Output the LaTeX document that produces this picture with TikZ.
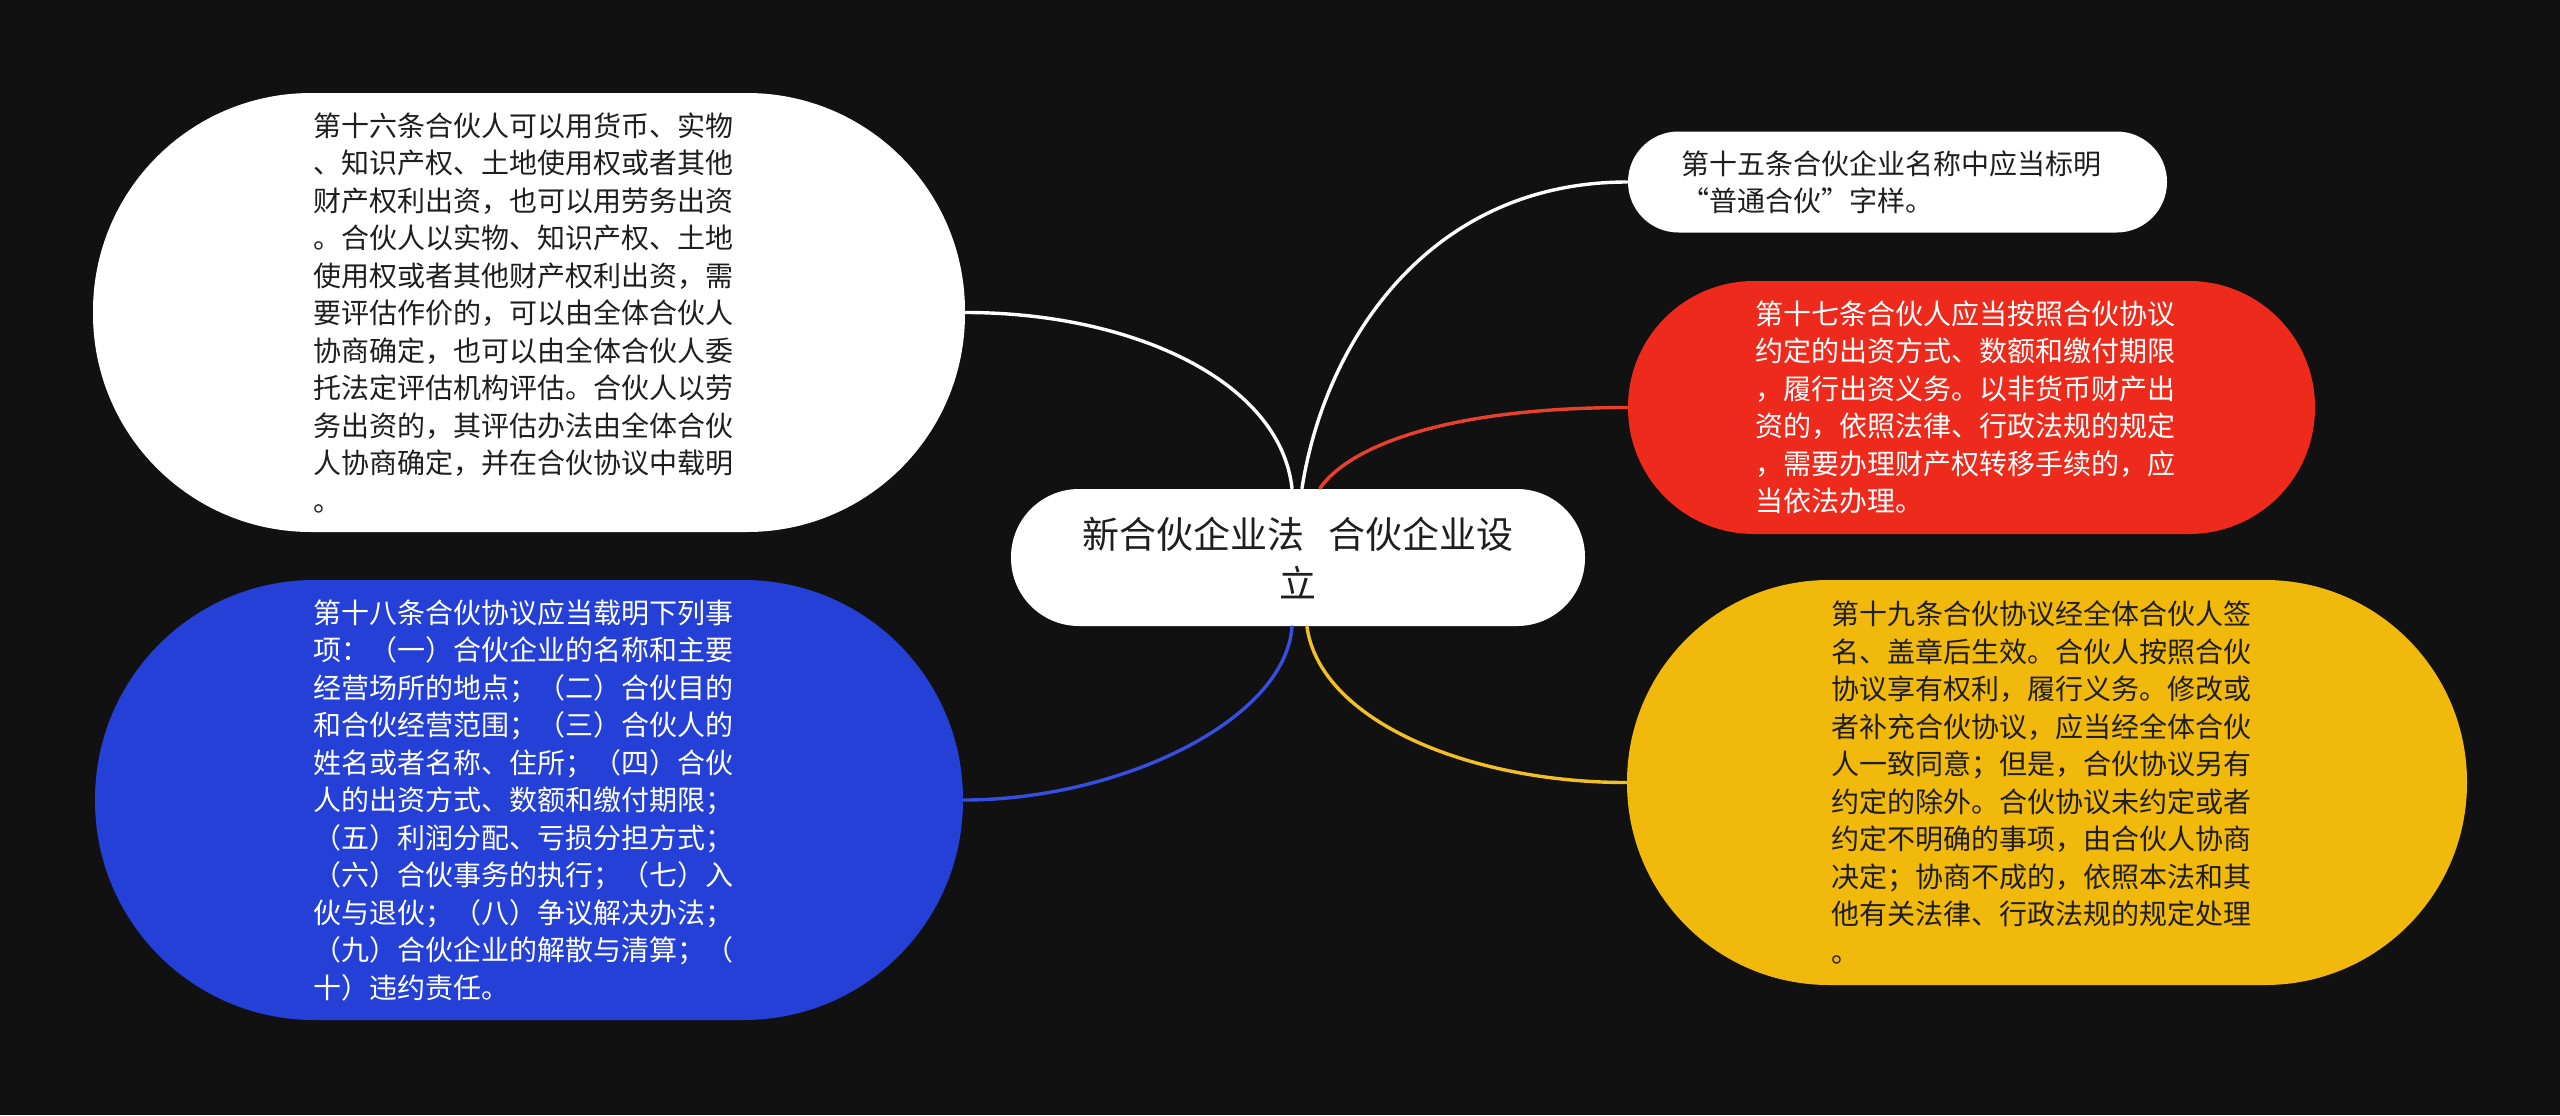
\documentclass[tikz,border=0pt]{standalone}
\usepackage{fontspec}
\setmainfont{Noto Sans CJK SC}
\usetikzlibrary{calc}
\definecolor{bg}{HTML}{111111}
\definecolor{redfill}{HTML}{ED2A1B}
\definecolor{bluefill}{HTML}{2440D6}
\definecolor{yellowfill}{HTML}{F0B90B}
\definecolor{redline}{HTML}{E8402D}
\definecolor{blueline}{HTML}{3550E0}
\definecolor{yellowline}{HTML}{F3BF26}
\definecolor{darktext}{HTML}{1E1E1E}
\tikzset{
  topic/.style={rectangle, inner sep=0pt, text width=108pt, align=left,
    font=\fontsize{7pt}{9.375pt}\selectfont},
  centre/.style={rectangle, inner sep=0pt, fill=white, text=darktext, align=center,
    minimum width=143.5pt, minimum height=34.25pt, rounded corners=17pt,
    font=\fontsize{9.25pt}{12.25pt}\selectfont},
  link/.style={line width=0.85pt, line cap=round}
}
\begin{document}
\begin{tikzpicture}[x=0.25pt,y=-0.25pt]
\fill[bg] (0,0) rectangle (2560,1115);
\useasboundingbox (0,0) rectangle (2560,1115);

\node[centre] (M) at (1298,557.5) {新合伙企业法\hspace*{6.2pt}合伙企业设\\立};

\node[topic, fill=white, text=darktext, minimum width=218pt, minimum height=109.75pt, rounded corners=54.5pt] (A) at (529,312.5) {第十六条合伙人可以用货币、实物\\、知识产权、土地使用权或者其他\\财产权利出资，也可以用劳务出资\\。合伙人以实物、知识产权、土地\\使用权或者其他财产权利出资，需\\要评估作价的，可以由全体合伙人\\协商确定，也可以由全体合伙人委\\托法定评估机构评估。合伙人以劳\\务出资的，其评估办法由全体合伙\\人协商确定，并在合伙协议中载明\\。};

\node[topic, fill=bluefill, text=white, minimum width=217pt, minimum height=110pt, rounded corners=54.8pt] (B) at (529,800) {第十八条合伙协议应当载明下列事\\项：（一）合伙企业的名称和主要\\经营场所的地点；（二）合伙目的\\和合伙经营范围；（三）合伙人的\\姓名或者名称、住所；（四）合伙\\人的出资方式、数额和缴付期限；\\（五）利润分配、亏损分担方式；\\（六）合伙事务的执行；（七）入\\伙与退伙；（八）争议解决办法；\\（九）合伙企业的解散与清算；（\\十）违约责任。};

\node[topic, fill=white, text=darktext, minimum width=134.75pt, minimum height=25.25pt, rounded corners=12.6pt] (C) at (1897.5,182) {第十五条合伙企业名称中应当标明\\“普通合伙”字样。};

\node[topic, fill=redfill, text=white, minimum width=171.75pt, minimum height=63.25pt, rounded corners=31.5pt] (D) at (1971.5,407.5) {第十七条合伙人应当按照合伙协议\\约定的出资方式、数额和缴付期限\\，履行出资义务。以非货币财产出\\资的，依照法律、行政法规的规定\\，需要办理财产权转移手续的，应\\当依法办理。};

\node[topic, fill=yellowfill, text=darktext, minimum width=210pt, minimum height=101.25pt, rounded corners=50.5pt] (E) at (2047,782.5) {第十九条合伙协议经全体合伙人签\\名、盖章后生效。合伙人按照合伙\\协议享有权利，履行义务。修改或\\者补充合伙协议，应当经全体合伙\\人一致同意；但是，合伙协议另有\\约定的除外。合伙协议未约定或者\\约定不明确的事项，由合伙人协商\\决定；协商不成的，依照本法和其\\他有关法律、行政法规的规定处理\\。};

\coordinate (sA) at ([xshift=-1.5pt]M.north);
\coordinate (sC) at ([xshift=1pt]M.north);
\coordinate (sD) at ([xshift=5.5pt]M.north);
\coordinate (sB) at ([xshift=-1.5pt]M.south);
\coordinate (sE) at ([xshift=2.25pt]M.south);

\draw[link, white] (sA) .. controls ($(sA)+(-12,-108)$) and ($(A.east)+(165,0)$) .. (A.east);
\draw[link, white] (sC) .. controls ($(sC)+(23,-148)$) and ($(C.west)+(-197,0)$) .. (C.west);
\draw[link, redline] (sD) .. controls ($(sD)+(30,-43)$) and ($(D.west)+(-178,0)$) .. (D.west);
\draw[link, blueline] (sB) .. controls ($(sB)+(-7,94)$) and ($(B.east)+(155,0)$) .. (B.east);
\draw[link, yellowline] (sE) .. controls ($(sE)+(13,94)$) and ($(E.west)+(-157,0)$) .. (E.west);
\end{tikzpicture}
\end{document}
